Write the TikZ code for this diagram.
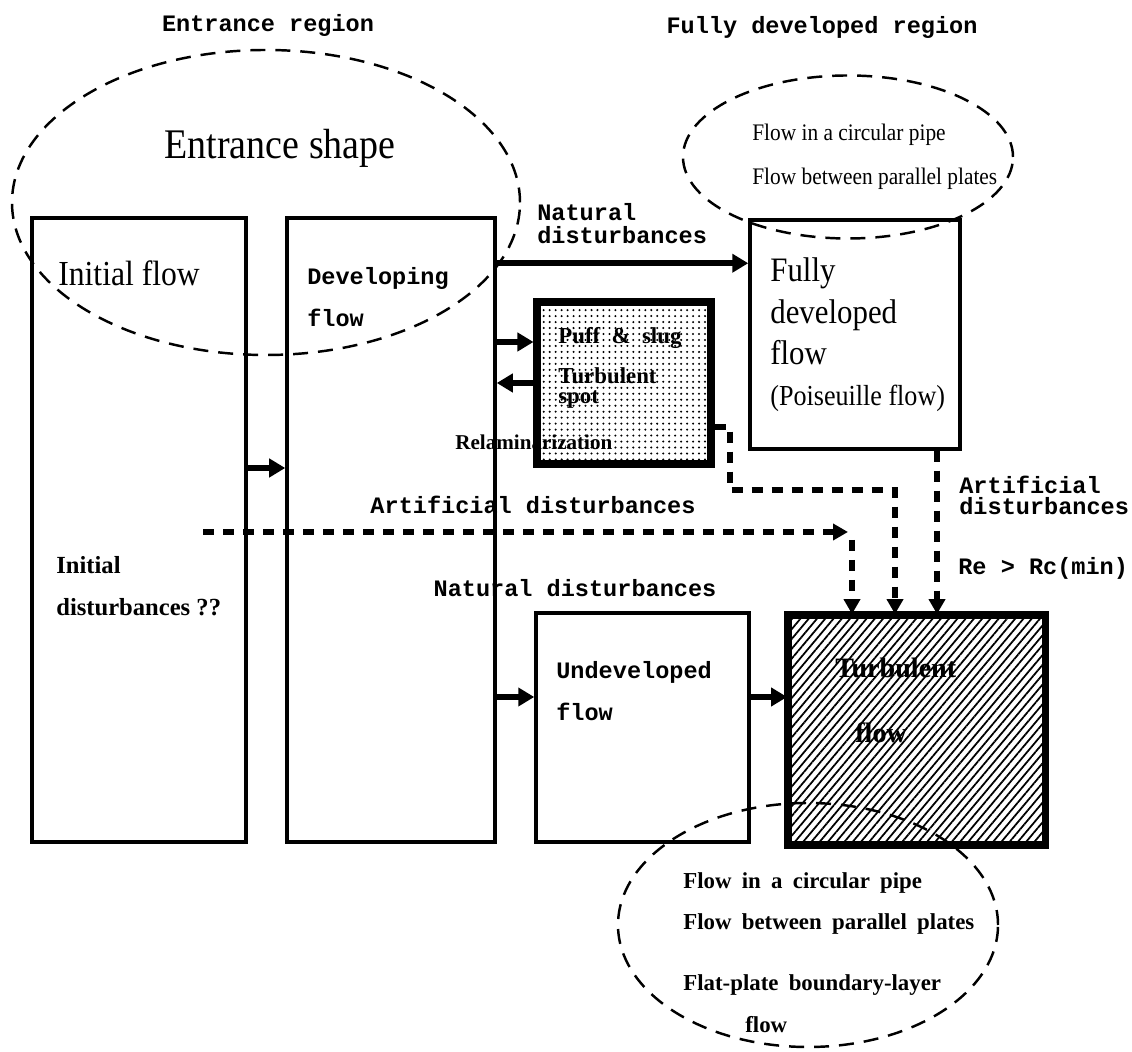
\documentclass[tikz,border=0pt]{standalone}
\usepackage{fontspec}
\setmainfont{Liberation Serif}
\setmonofont{Liberation Mono}
\newfontfamily\narrowserif[FakeStretch=0.9]{Liberation Serif}
\usetikzlibrary{arrows.meta,patterns.meta}

\begin{document}
\begin{tikzpicture}[
  box/.style={draw, line width=2pt, inner sep=0pt},
  heavybox/.style={draw, line width=4pt, inner sep=0pt},
  region/.style={line width=1.4pt, dash pattern=on 0.3cm off 0.2cm},
  flowarr/.style={line width=3.6pt, -{Triangle[length=0.32cm,width=0.36cm]}},
  distarr/.style={line width=3.4pt, dash pattern=on 0.22cm off 0.18cm,
    -{Triangle[length=0.3cm,width=0.32cm]}},
  mono/.style={font=\fontsize{13.4}{#1}\selectfont\ttfamily\bfseries, inner sep=0pt, align=left},
  mono/.default=16,
  label/.style={inner sep=0pt, align=left, anchor=west},
  widesp/.style={execute at begin node={\spaceskip=0.45em\relax}}
]
  \useasboundingbox (0,0) rectangle (22.64,21.02);

  % Boxes
  \node[box, minimum width=4.28cm, minimum height=12.48cm] (init) at (2.78,10.42) {};
  \node[box, minimum width=4.16cm, minimum height=12.48cm] (dev) at (7.82,10.42) {};
  \node[heavybox, pattern={Dots[distance=3.4pt,radius=0.65pt]},
    minimum width=3.48cm, minimum height=3.24cm] (puff) at (12.48,13.36) {};
  \node[box, minimum width=4.2cm, minimum height=4.58cm] (fully) at (17.1,14.33) {};
  \node[box, minimum width=4.26cm, minimum height=4.58cm] (undev) at (12.85,6.47) {};
  \node[heavybox, pattern={Lines[angle=50,distance=3.6pt,line width=1pt]},
    minimum width=5.14cm, minimum height=4.6cm] (turb) at (18.33,6.42) {};

  % Regions
  \draw[region] (5.32,16.97) ellipse (5.08 and 3.05);
  \draw[region] (16.96,17.88) ellipse (3.3 and 1.63);
  \draw[region] (16.16,2.52) ellipse (3.8 and 2.44);

  % Flow arrows
  \draw[flowarr] ([yshift=1.24cm]init.east) -- ([yshift=1.24cm]dev.west);
  \coordinate (nd) at ([yshift=-0.94cm]dev.north east);
  \draw[flowarr] (nd) -- (nd -| fully.west);
  \coordinate (pin) at ([yshift=0.82cm]puff.west);
  \draw[flowarr] (pin -| dev.east) -- (pin);
  \draw[flowarr] (puff.west) -- (puff.west -| dev.east);
  \coordinate (uin) at ([yshift=0.61cm]undev.west);
  \draw[flowarr] (uin -| dev.east) -- (uin);
  \draw[flowarr] (uin -| undev.east) -- (uin -| turb.west);

  % Disturbance arrows
  \coordinate (ad0) at (4.06,10.38);
  \coordinate (ad1) at (16.96,10.38);
  \coordinate (ad2) at (17.04,10.22);
  \draw[distarr] (ad0) -- (ad1);
  \draw[distarr] (ad2) -- (ad2 |- turb.north);
  \coordinate (pout) at ([yshift=-0.88cm]puff.east);
  \coordinate (pbend) at (14.6,11.22);
  \coordinate (pdown) at (17.9,11.22);
  \draw[distarr] (pout) -| (pbend) -- (pdown) -- (pdown |- turb.north);
  \coordinate (fout) at ([xshift=1.64cm]fully.south);
  \draw[distarr] (fout) -- (fout |- turb.north);

  % Texts
  \node[mono] (entreg) at (5.36,20.52) {Entrance region};
  \node[mono] (fullreg) at (16.44,20.48) {Fully developed region};
  \node[inner sep=0pt, font=\fontsize{24}{28}\selectfont\narrowserif] (entshape) at (5.6,18.06) {Entrance shape};
  \node[label, font=\fontsize{20}{24}\selectfont\narrowserif] (inittxt) at (1.16,15.56) {Initial flow};
  \node[mono=23.8, anchor=west] (devtxt) at (6.14,15.08) {Developing\\flow};
  \node[mono=13, anchor=west] (ndtxt) at (10.74,16.54) {Natural\\disturbances};
  \node[label, font=\fontsize{19.5}{23.5}\selectfont\narrowserif] (fullytxt) at (15.4,14.32)
    {Fully\\developed\\flow\\{\fontsize{16.5}{20}\selectfont(Poiseuille flow)}};
  \node[label, font=\fontsize{13.5}{25}\selectfont\narrowserif] (pipetxt) at (15.04,17.88)
    {Flow in a circular pipe\\Flow between parallel plates};
  \node[label, font=\fontsize{13}{16}\selectfont\bfseries] (pufftxt) at (11.16,14.26) {Puff~~\&~~slug};
  \node[label, font=\fontsize{13}{11.5}\selectfont\bfseries] (spottxt) at (11.16,13.26) {Turbulent\\spot};
  \node[label, font=\fontsize{12}{14}\selectfont\bfseries] (relamtxt) at (9.1,12.18) {Relaminarization};
  \node[mono] (adtxt) at (10.66,10.92) {Artificial disturbances};
  \node[mono=12, anchor=west] (adtxt2) at (19.18,11.12) {Artificial\\disturbances};
  \node[mono, anchor=west] (retxt) at (19.16,9.66) {Re > Rc(min)};
  \node[mono] (ndtxt2) at (11.5,9.26) {Natural disturbances};
  \node[label, font=\fontsize{14}{23.8}\selectfont\bfseries] (idtxt) at (1.12,9.3) {Initial\\disturbances ??};
  \node[mono=23.8, anchor=west] (undevtxt) at (11.12,7.2) {Undeveloped\\flow};
  \node[label, font=\fontsize{16}{37}\selectfont\bfseries] (turbtxt) at (16.7,7.01) {Turbulent\\\hspace*{0.4cm}flow};
  \node[label, widesp, font=\fontsize{13}{23.8}\selectfont\bfseries] (bottxt) at (13.66,1.97)
    {Flow in a circular pipe\\Flow between parallel plates\\[0.38cm]Flat-plate boundary-layer\\\hspace*{1.24cm}flow};
\end{tikzpicture}
\end{document}
